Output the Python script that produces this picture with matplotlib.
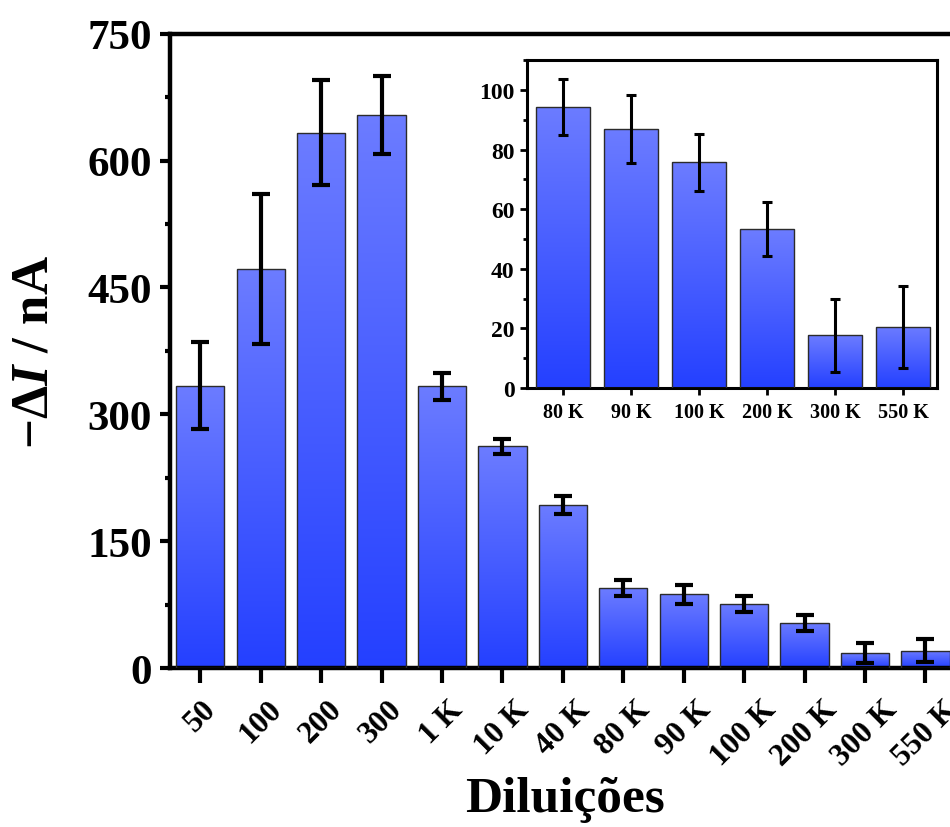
import numpy as np
import matplotlib
matplotlib.use('Agg')
import matplotlib.pyplot as plt
from matplotlib.colors import LinearSegmentedColormap
from matplotlib.ticker import MultipleLocator

plt.rcParams['font.family'] = ['Liberation Serif', 'DejaVu Serif']
plt.rcParams['font.weight'] = 'bold'
plt.rcParams['mathtext.fontset'] = 'custom'
plt.rcParams['mathtext.rm'] = 'Liberation Serif:bold'
plt.rcParams['mathtext.it'] = 'Liberation Serif:italic:bold'
plt.rcParams['mathtext.bf'] = 'Liberation Serif:bold'

# dados principais
labels = ['50', '100', '200', '300', '1 K', '10 K', '40 K',
          '80 K', '90 K', '100 K', '200 K', '300 K', '550 K']
values = [334, 472, 633, 654, 333, 262, 193, 94.3, 87.0, 75.7, 53.3, 17.7, 20.5]
errors = [51, 89, 62, 46, 16, 9, 11, 9.3, 11.4, 9.5, 9.0, 12.3, 13.7]

# inset
ins_labels = ['80 K', '90 K', '100 K', '200 K', '300 K', '550 K']
ins_values = [94.3, 87.0, 75.7, 53.3, 17.7, 20.5]
ins_errors = [9.3, 11.4, 9.5, 9.0, 12.3, 13.7]

cmap = LinearSegmentedColormap.from_list('grad', ['#2440ff', '#6c7cff'])


def gradient_bars(ax, x, h, width=0.8):
    bars = ax.bar(x, h, width=width, facecolor='none', edgecolor='#2b2b2b',
                  linewidth=1.0, zorder=3)
    grad = np.linspace(0, 1, 256).reshape(-1, 1)
    for b in bars:
        x0, y0 = b.get_x(), b.get_y()
        w, hh = b.get_width(), b.get_height()
        im = ax.imshow(grad, cmap=cmap, origin='lower', aspect='auto',
                       extent=(x0, x0 + w, y0, y0 + hh), zorder=2)
        im.set_clip_path(b)
    return bars


fig = plt.figure(figsize=(9.5, 8.28), dpi=100)
ax = fig.add_axes([0.179, 0.192, 0.827, 0.766])

x = np.arange(len(labels))
gradient_bars(ax, x, values)
ax.errorbar(x, values, yerr=errors, fmt='none', ecolor='black',
            elinewidth=3, capsize=6.5, capthick=3, zorder=4)

ax.set_xlim(-0.5, len(labels) - 0.5)
ax.set_ylim(0, 750)
ax.yaxis.set_major_locator(MultipleLocator(150))
ax.yaxis.set_minor_locator(MultipleLocator(75))
ax.set_xticks(x)
ax.set_xticklabels(labels, rotation=45, ha='center', va='top', fontsize=22.5)
ax.tick_params(axis='y', which='major', length=7, width=3, labelsize=31, pad=6)
ax.tick_params(axis='y', which='minor', length=3.5, width=3)
ax.tick_params(axis='x', which='major', length=11, width=3, pad=8)
for s in ax.spines.values():
    s.set_linewidth(3.2)

ax.set_xlabel('Diluições', fontsize=37, fontweight='bold')
ax.xaxis.label.set_va('baseline')
ax.xaxis.set_label_coords(0.502, -0.226)
ax.set_ylabel('−Δ$\\mathit{I}$ / nA', fontsize=38, fontweight='bold')
ax.yaxis.set_label_coords(-0.142, 0.5)

# inset
axi = fig.add_axes([0.5547, 0.5302, 0.4316, 0.396])
xi = np.arange(len(ins_labels))
gradient_bars(axi, xi, ins_values)
axi.errorbar(xi, ins_values, yerr=ins_errors, fmt='none', ecolor='black',
             elinewidth=2.2, capsize=3.6, capthick=2.2, zorder=4)
axi.set_xlim(-0.53, len(ins_labels) - 0.5)
axi.set_ylim(0, 110)
axi.yaxis.set_major_locator(MultipleLocator(20))
axi.yaxis.set_minor_locator(MultipleLocator(10))
axi.set_xticks(xi)
axi.set_xticklabels(ins_labels, fontsize=14.5)
axi.tick_params(axis='y', which='major', length=5, width=2, labelsize=17, pad=4)
axi.tick_params(axis='y', which='minor', length=3, width=2)
axi.tick_params(axis='x', which='major', length=5, width=2, pad=5)
for s in axi.spines.values():
    s.set_linewidth(2.2)

fig.savefig('out.png', dpi=100)
